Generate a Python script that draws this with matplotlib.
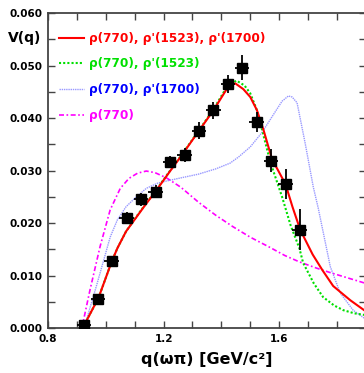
import matplotlib.pyplot as plt
import numpy as np
from matplotlib.ticker import MultipleLocator, FixedLocator

# measured points
q_data = [0.925, 0.973, 1.020, 1.072, 1.122, 1.172, 1.222, 1.273, 1.322, 1.372, 1.422, 1.472, 1.522, 1.571, 1.622, 1.671]
v_data = [0.0005, 0.0055, 0.0127, 0.0210, 0.0245, 0.0260, 0.0316, 0.0330, 0.0376, 0.0415, 0.0465, 0.0496, 0.0393, 0.0319, 0.0274, 0.0187]
v_err = [0.0007, 0.0010, 0.0010, 0.0011, 0.0013, 0.0013, 0.0011, 0.0013, 0.0016, 0.0016, 0.0017, 0.0024, 0.0019, 0.0022, 0.0029, 0.0039]
q_err = 0.025

# fit curves
q_red = [0.920, 0.975, 1.020, 1.040, 1.070, 1.107, 1.140, 1.172, 1.220, 1.264, 1.324, 1.373, 1.424, 1.448,
         1.476, 1.500, 1.523, 1.546, 1.575, 1.622, 1.646, 1.673, 1.716, 1.750, 1.787, 1.846, 1.894]
v_red = [0.0, 0.0058, 0.0126, 0.0152, 0.0184, 0.0212, 0.0237, 0.0260, 0.0297, 0.0330, 0.0377, 0.0415, 0.0460, 0.0466,
         0.0455, 0.0440, 0.0415, 0.0377, 0.0322, 0.0274, 0.0231, 0.0187, 0.0140, 0.0110, 0.0080, 0.0053, 0.0034]

q_green = [0.920, 0.975, 1.020, 1.040, 1.070, 1.107, 1.140, 1.172, 1.220, 1.264, 1.324, 1.373, 1.424, 1.453,
           1.480, 1.500, 1.523, 1.541, 1.570, 1.610, 1.640, 1.670, 1.683, 1.720, 1.752, 1.790, 1.822, 1.860, 1.894]
v_green = [0.0, 0.0058, 0.0126, 0.0152, 0.0184, 0.0213, 0.0238, 0.0261, 0.0298, 0.0331, 0.0378, 0.0417, 0.0464, 0.0471,
           0.0462, 0.0447, 0.0415, 0.0377, 0.0315, 0.0250, 0.0195, 0.0152, 0.0124, 0.0085, 0.0059, 0.0043, 0.0034, 0.0028, 0.0025]

q_blue = [0.918, 0.928, 0.970, 1.015, 1.040, 1.070, 1.100, 1.140, 1.180, 1.210, 1.260, 1.320, 1.380, 1.430, 1.460,
          1.500, 1.540, 1.590, 1.610, 1.632, 1.645, 1.662, 1.690, 1.718, 1.735, 1.777, 1.811, 1.856, 1.894]
v_blue = [0.0, 0.0006, 0.0085, 0.0173, 0.0206, 0.0231, 0.0247, 0.0266, 0.0276, 0.0280, 0.0286, 0.0293, 0.0303, 0.0314, 0.0326,
          0.0345, 0.0372, 0.0415, 0.0432, 0.0442, 0.0440, 0.0429, 0.0352, 0.0269, 0.0229, 0.0117, 0.0067, 0.0034, 0.0019]

q_mag = [0.917, 0.945, 0.980, 1.015, 1.050, 1.080, 1.110, 1.140, 1.170, 1.210, 1.260, 1.320, 1.380, 1.440, 1.500,
         1.570, 1.620, 1.670, 1.730, 1.780, 1.840, 1.894]
v_mag = [0.0, 0.0072, 0.0155, 0.0225, 0.0266, 0.0285, 0.0295, 0.0299, 0.0296, 0.0286, 0.0268, 0.0240, 0.0215, 0.0193, 0.0173,
         0.0153, 0.0138, 0.0126, 0.0114, 0.0105, 0.0095, 0.0086]

labels = ["ρ(770), ρ'(1523), ρ'(1700)", "ρ(770), ρ'(1523)", "ρ(770), ρ'(1700)", "ρ(770)"]
text_colors = ['#ff0000', '#00e000', '#0000ff', '#ff00ff']

fig = plt.figure(figsize=(3.64, 3.73), dpi=100)
ax = fig.add_axes([0.132, 0.1206, 0.873, 0.8445])

l1, = ax.plot(q_red, v_red, color='#ff0000', lw=1.5, zorder=4)
l2, = ax.plot(q_green, v_green, color='#00e000', lw=1.5, ls=(0, (1, 1)), zorder=3)
l3, = ax.plot(q_blue, v_blue, color='#9898ff', lw=1.0, ls=(0, (1, 0.6)), zorder=2)
l4, = ax.plot(q_mag, v_mag, color='#ff00ff', lw=1.2, ls=(0, (3, 1.5, 1, 1.5)), zorder=2)

ax.errorbar(q_data, v_data, xerr=q_err, yerr=v_err, fmt='s', color='black', ms=6.5,
            elinewidth=1.3, capsize=0, zorder=5)

ax.set_xlim(0.8, 1.9)
ax.set_ylim(0.0, 0.060)
ax.xaxis.set_major_locator(FixedLocator([0.8, 1.2, 1.6]))
ax.xaxis.set_minor_locator(MultipleLocator(0.1))
ax.yaxis.set_major_locator(MultipleLocator(0.010))
ax.yaxis.set_minor_locator(MultipleLocator(0.005))
ax.xaxis.set_major_formatter(plt.FuncFormatter(lambda v, p: '%.1f' % v))
ax.yaxis.set_major_formatter(plt.FuncFormatter(lambda v, p: '%.3f' % v))
ax.tick_params(which='both', direction='in', top=True, right=True, length=5, width=1, color='#444444')
ax.tick_params(which='major', labelsize=7.5, pad=4)
for t in ax.get_xticklabels() + ax.get_yticklabels():
    t.set_fontweight('bold')
for s in ax.spines.values():
    s.set_color('#444444')
    s.set_linewidth(1.3)

ax.set_xlabel('q(ωπ) [GeV/c²]', fontsize=11.5, fontweight='bold', labelpad=6)
fig.text(0.022, 0.898, 'V(q)', fontsize=10, fontweight='bold', va='center')

leg = ax.legend([l1, l2, l3, l4], labels, loc='upper left', bbox_to_anchor=(0.0, 0.975),
                frameon=False, handlelength=2.1, handletextpad=0.4, labelspacing=1.05,
                prop={'weight': 'bold', 'size': 8.7})
for t, c in zip(leg.get_texts(), text_colors):
    t.set_color(c)

fig.savefig('out.png', dpi=100)
